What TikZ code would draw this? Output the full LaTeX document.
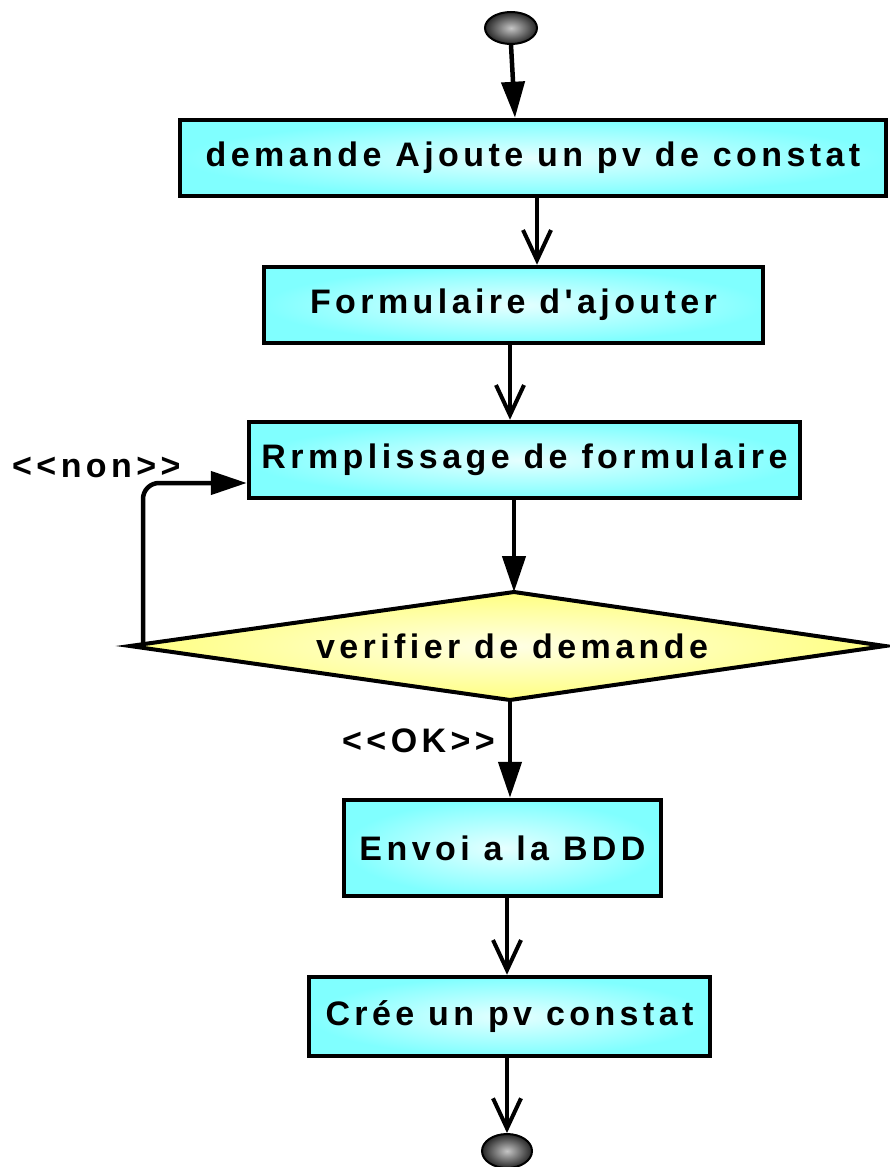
\documentclass[tikz,border=0pt]{standalone}
\usepackage{fontspec}
\usetikzlibrary{shapes.geometric,arrows.meta,calc}
\newfontfamily\boxfont{Liberation Sans}[LetterSpace=13]
\definecolor{cyanedge}{HTML}{80FFFF}
\definecolor{cyanmid}{HTML}{E6FFFF}
\definecolor{yeledge}{HTML}{FFFF80}
\definecolor{yelmid}{HTML}{FFFFE6}
\tikzset{
  actbox/.style={rectangle, draw=black, line width=4.5pt, inner sep=0pt,
    inner color=cyanmid, outer color=cyanedge,
    font=\boxfont\bfseries\fontsize{34}{38}\selectfont},
  decshape/.style={draw=black, line width=4pt,
    inner color=yelmid, outer color=yeledge},
  dectext/.style={inner sep=0pt, font=\boxfont\bfseries\fontsize{34}{38}\selectfont},
  endpt/.style={ellipse, draw=black, line width=2pt, inner sep=0pt,
    inner color=gray!45, outer color=black!85},
  lbl/.style={inner sep=0pt, anchor=base west,
    font=\boxfont\bfseries\fontsize{34}{36}\selectfont},
  flow/.style={line width=4.5pt},
  fillarr/.style={flow, -{Triangle[length=36pt,width=23pt]}},
  openarr/.style={flow, -{Straight Barb[length=30pt,width=28pt,line width=4pt]}}
}
\begin{document}
\begin{tikzpicture}[x=1pt,y=-1pt]
\useasboundingbox (0,0) rectangle (890,1167);
\node[endpt, minimum width=52pt, minimum height=32pt] (start) at (511,28) {};
\node[actbox, minimum width=706pt, minimum height=76pt] (b1) at (533,158) {demande Ajoute un pv de constat};
\node[actbox, minimum width=499pt, minimum height=76pt] (b2) at (513.5,305) {Formulaire d'ajouter};
\node[actbox, minimum width=551pt, minimum height=76pt] (b3) at (524.5,460) {Rrmplissage de formulaire};
\coordinate (dW) at (130,646);
\coordinate (dN) at (514,592);
\coordinate (dE) at (885,646);
\coordinate (dS) at (510,700);
\path[decshape] (dW) -- (dN) -- (dE) -- (dS) -- cycle;
\node[dectext] (dec) at (512,646) {verifier de demande};
\node[actbox, minimum width=317pt, minimum height=96pt] (b4) at (502.5,848) {Envoi a la BDD};
\node[actbox, minimum width=401pt, minimum height=79pt] (b5) at (509.5,1016.5) {Crée un pv constat};
\node[endpt, minimum width=50pt, minimum height=34pt] (end) at (507,1151) {};

\node[lbl] (lnon) at (12,477) {<{}<non>{}>};
\node[lbl] (lok) at (342,752) {<{}<OK>{}>};

\draw[fillarr] (start.south) -- (515,0 |- b1.north);
\draw[openarr] (537,0 |- b1.south) -- (537,0 |- b2.north);
\draw[openarr] (510,0 |- b2.south) -- (510,0 |- b3.north);
\draw[fillarr] (514,0 |- b3.south) -- (dN);
\draw[fillarr] (dS) -- (510,0 |- b4.north);
\draw[openarr] (507,0 |- b4.south) -- (507,0 |- b5.north);
\draw[openarr] (507,0 |- b5.south) -- (end.north);
\coordinate (nonturn) at (143,483);
\draw[fillarr, rounded corners=16pt] (143,0 |- dW) -- (nonturn) -- (b3.west |- nonturn);
\end{tikzpicture}
\end{document}
